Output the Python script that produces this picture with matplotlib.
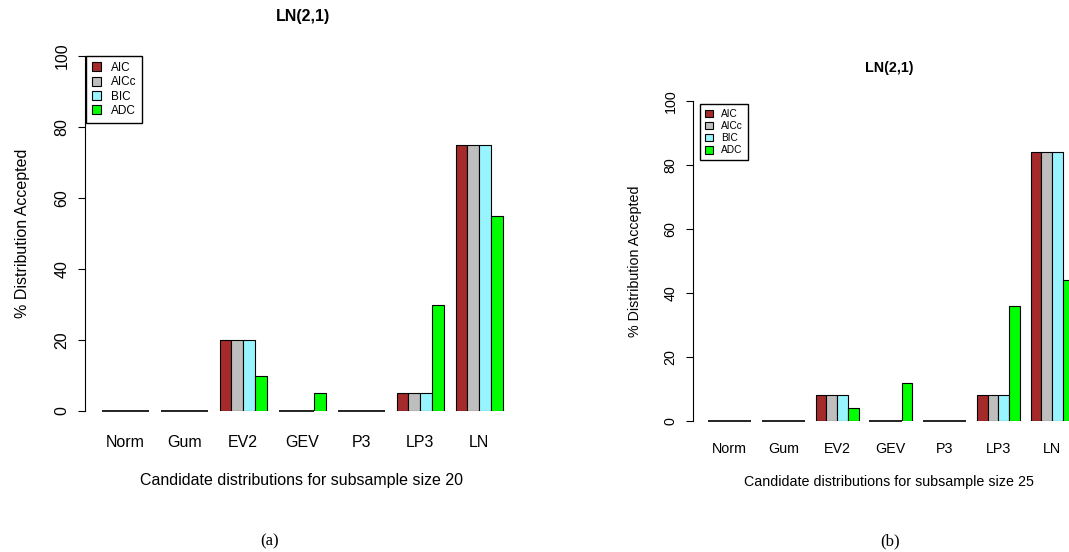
import matplotlib.pyplot as plt
import numpy as np

dists = ['Norm', 'Gum', 'EV2', 'GEV', 'P3', 'LP3', 'LN']
criteria = ['AIC', 'AICc', 'BIC', 'ADC']
colors = ['#A52A2A', '#BEBEBE', '#98F5FF', '#00FF00']

# % accepted, one list per criterion
size20 = {
    'AIC':  [0, 0, 20, 0, 0, 5, 75],
    'AICc': [0, 0, 20, 0, 0, 5, 75],
    'BIC':  [0, 0, 20, 0, 0, 5, 75],
    'ADC':  [0, 0, 10, 5, 0, 30, 55],
}
size25 = {
    'AIC':  [0, 0, 8, 0, 0, 8, 84],
    'AICc': [0, 0, 8, 0, 0, 8, 84],
    'BIC':  [0, 0, 8, 0, 0, 8, 84],
    'ADC':  [0, 0, 4, 12, 0, 36, 44],
}

W, H = 1069, 552
fig = plt.figure(figsize=(W / 100, H / 100), dpi=100)
plt.rcParams['font.family'] = ['Liberation Sans', 'DejaVu Sans']


def panel(data, size, spine_px, unit_px, top_px, bottom_px, fs, title_xy, xlab_xy, cap, cap_x, leg_box, ylab_pad):
    x0 = -0.4
    width_units = 37
    ax = fig.add_axes([spine_px / W, 1 - bottom_px / H, width_units * unit_px / W, (bottom_px - top_px) / H])
    ax.set_xlim(x0, x0 + width_units)
    ax.set_ylim(0, 100)
    for j, c in enumerate(criteria):
        xs = np.array([1 + 5 * i + j + 0.5 for i in range(len(dists))])
        ax.bar(xs, data[c], width=1, color=colors[j], edgecolor='black', linewidth=0.8, label=c)
        zero = np.array(data[c]) == 0
        ax.hlines(np.zeros(zero.sum()), xs[zero] - 0.5, xs[zero] + 0.5, color='black',
                  linewidth=1.2, clip_on=False, zorder=5)
    for s in ['top', 'right', 'bottom']:
        ax.spines[s].set_visible(False)
    ax.set_yticks([0, 20, 40, 60, 80, 100])
    ax.set_yticklabels(['0', '20', '40', '60', '80', '100'], rotation=90, va='center', fontsize=fs)
    ax.tick_params(axis='y', length=5, pad=6)
    ax.set_xticks([3 + 5 * i for i in range(len(dists))])
    ax.set_xticklabels(dists, fontsize=fs)
    ax.tick_params(axis='x', length=0, pad=fs * 1.5)
    ax.set_ylabel('% Distribution Accepted', fontsize=fs, labelpad=ylab_pad)
    fig.text(title_xy[0] / W, 1 - title_xy[1] / H, 'LN(2,1)', fontsize=fs, fontweight='bold',
             ha='center', va='center')
    fig.text(xlab_xy[0] / W, 1 - xlab_xy[1] / H, 'Candidate distributions for subsample size %d' % size,
             fontsize=fs, ha='center', va='center')
    fig.text(cap_x / W, 1 - 541 / H, cap, fontsize=12, family='Liberation Serif', ha='center', va='center')
    ax.legend(loc='upper left', bbox_to_anchor=leg_box, bbox_transform=fig.transFigure,
              fontsize=fs - 3, frameon=True, fancybox=False, edgecolor='black', framealpha=1,
              handlelength=0.8, handleheight=0.8, handletextpad=0.8, borderpad=0.5, labelspacing=0.2,
              borderaxespad=0)
    return ax


panel(size20, 20, 85, 11.8, 56, 411, 11.5, (303, 17), (302, 480), '(a)', 270, (86 / W, 1 - 56 / H), 18)
panel(size25, 25, 693, 10.75, 101, 421, 10.3, (889, 68), (889, 482), '(b)', 890, (700 / W, 1 - 104 / H), 16)

fig.savefig('out.png', dpi=100)
